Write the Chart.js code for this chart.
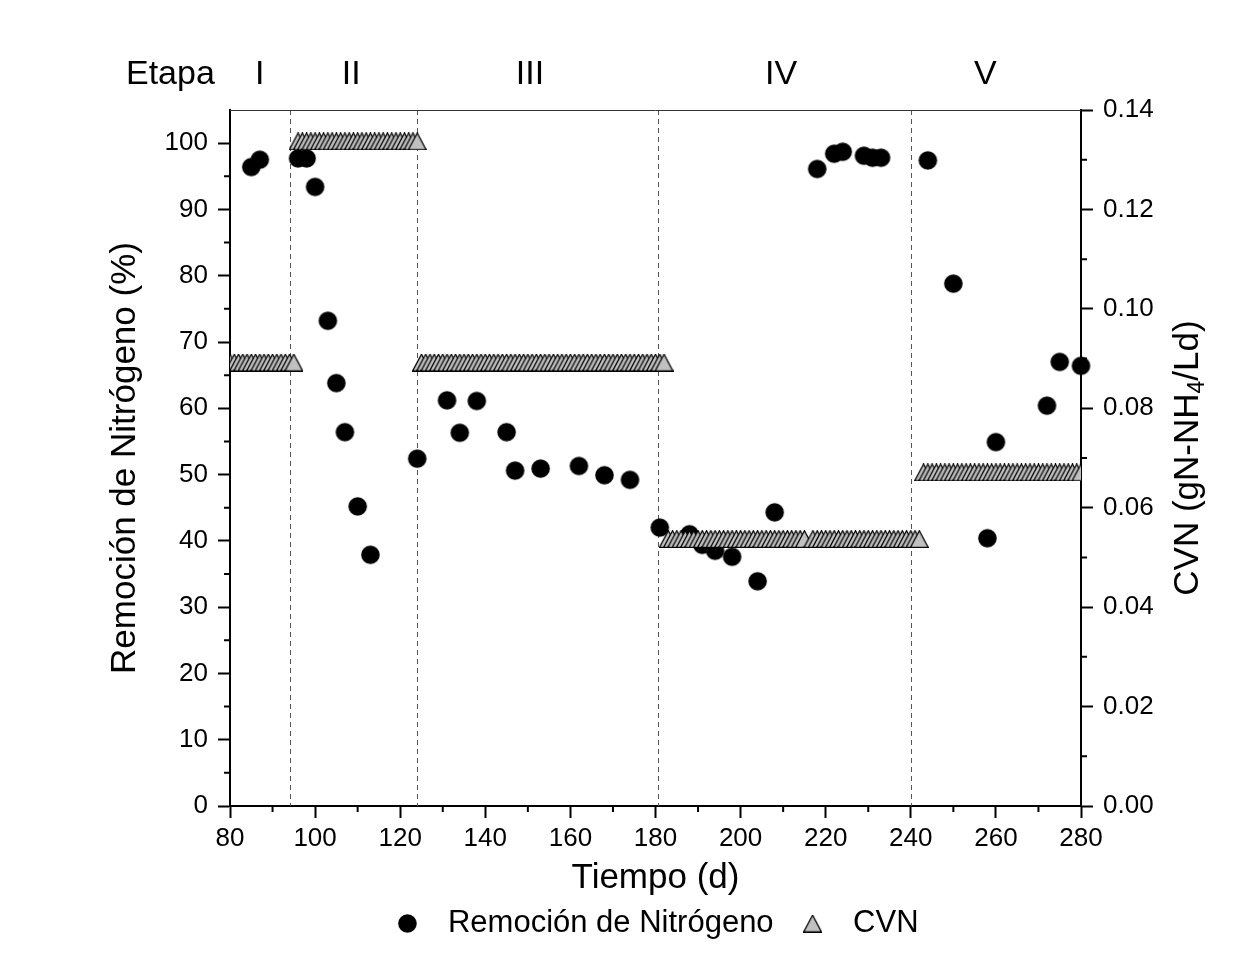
<!DOCTYPE html>
<html>
<head>
<meta charset="utf-8">
<script src="https://cdn.jsdelivr.net/npm/chart.js@4.4.1/dist/chart.umd.min.js"></script>
<style>
  html, body { margin: 0; padding: 0; background: #fff; }
  #wrap { width: 1247px; height: 958px; }
</style>
</head>
<body>
<div id="wrap"><canvas id="chart" width="1247" height="958"></canvas></div>
<script>
// Remoción de nitrógeno (%) por día
const remDays = [85, 87, 96, 98, 100, 103, 105, 107, 110, 113,
                 124, 131, 134, 138, 145, 147, 153, 162, 168, 174,
                 181, 188, 191, 194, 198, 204, 208, 218, 222, 224,
                 229, 231, 233, 244, 250, 258, 260, 272, 275, 280];
const remValues = [96.4, 97.5, 97.7, 97.7, 93.4, 73.2, 63.8, 56.4, 45.2, 37.9,
                   52.4, 61.2, 56.3, 61.1, 56.4, 50.6, 50.9, 51.3, 49.9, 49.2,
                   42.0, 41.0, 39.4, 38.5, 37.6, 33.9, 44.3, 96.1, 98.4, 98.7,
                   98.1, 97.8, 97.8, 97.4, 78.8, 40.4, 54.9, 60.4, 67.0, 66.4];

// carga volumétrica de nitrógeno, constante en cada periodo (registro diario)
const cvnFrom = [78, 96, 125, 183, 217, 243];
const cvnTo   = [95, 124, 182, 215, 242, 285];
const cvnLoad = [0.0892, 0.1337, 0.0892, 0.0537, 0.0537, 0.0671];

// etapas de operación
const stageNames  = ['I', 'II', 'III', 'IV', 'V'];
const stageMid    = [87, 108.5, 150.5, 209.5, 257.5];
const stageBounds = [94, 124, 180.6, 240];

const FONT = "'Liberation Sans', Arial, sans-serif";
Chart.defaults.font.family = FONT;
Chart.defaults.color = '#000';

const remPoints = remDays.map((d, i) => ({x: d, y: remValues[i]}));
const cvnPoints = [];
cvnFrom.forEach((start, k) => {
  for (let d = start; d <= cvnTo[k]; d++) cvnPoints.push({x: d, y: cvnLoad[k]});
});

// marcadores dibujados a mano (círculo negro, triángulo gris con borde)
function makeCircle(r) {
  const c = document.createElement('canvas');
  c.width = c.height = Math.ceil(r * 2) + 2;
  const g = c.getContext('2d');
  g.beginPath();
  g.arc(c.width / 2, c.height / 2, r, 0, Math.PI * 2);
  g.fillStyle = '#000';
  g.fill();
  return c;
}
function makeTriangle(w, h) {
  const c = document.createElement('canvas');
  c.width = w; c.height = h;
  const g = c.getContext('2d');
  g.beginPath();
  g.moveTo(0.6, h - 0.6);
  g.lineTo(w / 2, 0.6);
  g.lineTo(w - 0.6, h - 0.6);
  g.closePath();
  g.fillStyle = '#c0c0c0';
  g.fill();
  g.strokeStyle = '#000';
  g.lineWidth = 1.2;
  g.stroke();
  return c;
}
const dot = makeCircle(9.3);
const tri = makeTriangle(19, 18);

const decorations = {
  id: 'decorations',
  beforeDatasetsDraw(chart) {
    const {ctx, chartArea: a, scales: {x}} = chart;
    ctx.save();
    ctx.strokeStyle = '#555';
    ctx.lineWidth = 1;
    ctx.setLineDash([5, 4]);
    stageBounds.forEach(d => {
      const px = Math.round(x.getPixelForValue(d)) + 0.5;
      ctx.beginPath();
      ctx.moveTo(px, a.top);
      ctx.lineTo(px, a.bottom);
      ctx.stroke();
    });
    ctx.restore();
  },
  afterDraw(chart) {
    const {ctx, chartArea: a, scales: {x, y, y1}} = chart;
    ctx.save();

    // línea superior del marco
    ctx.strokeStyle = '#333';
    ctx.lineWidth = 1;
    ctx.beginPath();
    ctx.moveTo(a.left, a.top + 0.5);
    ctx.lineTo(a.right, a.top + 0.5);
    ctx.stroke();

    // marcas menores
    ctx.strokeStyle = '#000';
    ctx.lineWidth = 2;
    ctx.beginPath();
    for (let v = 90; v < 280; v += 20) {
      const px = x.getPixelForValue(v);
      ctx.moveTo(px, a.bottom); ctx.lineTo(px, a.bottom + 6);
    }
    for (let v = 5; v < 100; v += 10) {
      const py = y.getPixelForValue(v);
      ctx.moveTo(a.left, py); ctx.lineTo(a.left - 6, py);
    }
    for (let k = 1; k < 14; k += 2) {
      const py = y1.getPixelForValue(k / 100);
      ctx.moveTo(a.right, py); ctx.lineTo(a.right + 6, py);
    }
    ctx.stroke();

    // rótulos de etapas
    ctx.fillStyle = '#000';
    ctx.font = '34px ' + FONT;
    ctx.textBaseline = 'middle';
    ctx.textAlign = 'left';
    ctx.fillText('Etapa', 126, 75);
    ctx.textAlign = 'center';
    stageNames.forEach((s, i) => ctx.fillText(s, x.getPixelForValue(stageMid[i]), 75));

    // título del eje derecho con subíndice
    const big = '35px ' + FONT, small = '23px ' + FONT;
    const parts = [['CVN (gN-NH', big, 0], ['4', small, 10], ['/Ld)', big, 0]];
    let total = 0;
    parts.forEach(p => { ctx.font = p[1]; p.push(ctx.measureText(p[0]).width); total += p[3]; });
    ctx.translate(1188, (a.top + a.bottom) / 2);
    ctx.rotate(-Math.PI / 2);
    ctx.textAlign = 'left';
    let cx = -total / 2;
    parts.forEach(p => {
      ctx.font = p[1];
      ctx.fillText(p[0], cx, p[2]);
      cx += p[3];
    });
    ctx.restore();
  }
};

const axisGrid = {drawOnChartArea: false, drawTicks: true, tickLength: 12, tickWidth: 2, tickColor: '#000'};
const axisBorder = {display: true, color: '#000', width: 2};

new Chart(document.getElementById('chart'), {
  type: 'scatter',
  data: {
    datasets: [{
      label: 'Remoción de Nitrógeno',
      data: remPoints,
      yAxisID: 'y',
      pointStyle: dot,
      pointRadius: 9,
      order: 1,
      clip: false
    }, {
      label: 'CVN',
      data: cvnPoints,
      yAxisID: 'y1',
      pointStyle: tri,
      pointRadius: 9,
      order: 0,
      clip: 0
    }]
  },
  options: {
    responsive: false,
    animation: false,
    events: [],
    layout: {padding: {left: 54, right: 0, top: 110, bottom: 9}},
    scales: {
      x: {
        type: 'linear', position: 'bottom', min: 80, max: 280,
        ticks: {stepSize: 20, font: {size: 26}, color: '#000', padding: 5},
        grid: axisGrid, border: axisBorder,
        title: {display: true, text: 'Tiempo (d)', font: {size: 35, lineHeight: 0.9}, color: '#000', padding: {top: 0, bottom: 0}},
        afterFit: s => { s.height = 88; }
      },
      y: {
        type: 'linear', position: 'left', min: 0, max: 105,
        ticks: {stepSize: 10, includeBounds: false, font: {size: 26}, color: '#000', padding: 10},
        grid: axisGrid, border: axisBorder,
        title: {display: true, text: 'Remoción de Nitrógeno (%)', font: {size: 35}, color: '#000', padding: {top: 50, bottom: 0}},
        afterFit: s => { s.width = 176; }
      },
      y1: {
        type: 'linear', position: 'right', min: 0, max: 0.14,
        ticks: {stepSize: 0.02, font: {size: 26}, color: '#000', padding: 10, callback: v => v.toFixed(2)},
        grid: axisGrid, border: axisBorder,
        afterFit: s => { s.width = 166; }
      }
    },
    plugins: {
      tooltip: {enabled: false},
      legend: {
        position: 'bottom',
        labels: {
          usePointStyle: true,
          pointStyleWidth: 50,
          padding: 14,
          font: {size: 31},
          color: '#000',
          sort: (a, b) => a.datasetIndex - b.datasetIndex
        }
      }
    }
  },
  plugins: [decorations]
});
</script>
</body>
</html>
